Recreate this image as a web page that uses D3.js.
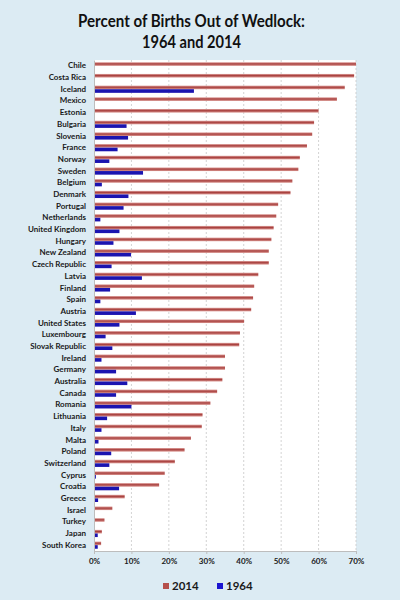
<!DOCTYPE html>
<html>
<head>
<meta charset="utf-8">
<script src="https://cdn.jsdelivr.net/npm/d3@7"></script>
<style>
  body { margin: 0; background: #dcebf3; }
  svg { display: block; }
</style>
</head>
<body>
<div id="chart"></div>
<script>
// values (percent of births out of wedlock)
var countries = ["Chile","Costa Rica","Iceland","Mexico","Estonia","Bulgaria","Slovenia","France","Norway","Sweden",
  "Belgium","Denmark","Portugal","Netherlands","United Kingdom","Hungary","New Zealand","Czech Republic","Latvia","Finland",
  "Spain","Austria","United States","Luxembourg","Slovak Republic","Ireland","Germany","Australia","Canada","Romania",
  "Lithuania","Italy","Malta","Poland","Switzerland","Cyprus","Croatia","Greece","Israel","Turkey","Japan","South Korea"];
var values2014 = [70.7,69.5,67.0,64.9,60.0,58.8,58.3,56.9,55.0,54.6,
  53.0,52.5,49.2,48.7,48.0,47.4,46.7,46.7,43.9,42.8,
  42.5,42.0,40.1,39.0,38.8,35.0,35.0,34.3,32.9,31.1,
  29.0,28.8,25.9,24.2,21.6,18.9,17.4,8.2,4.9,2.8,2.1,1.9];
var values1964 = [0,0,26.7,0,0,8.7,9.1,6.3,4.1,13.1,
  2.1,9.2,7.9,1.7,6.8,5.2,9.9,4.7,12.8,4.3,
  1.7,11.2,6.8,3.1,4.9,2.0,5.9,8.9,5.9,10.0,
  3.5,2.0,1.2,4.6,4.1,0.5,6.7,1.1,0,0,1.0,1.0];
var xTicks = [0,10,20,30,40,50,60,70];
var seriesNames = ["2014","1964"];
var titleLines = ["Percent of Births Out of Wedlock:", "1964 and 2014"];

var width = 400, height = 600;
var margin = {top: 60, right: 44, bottom: 49, left: 94};
var font = "Lato, 'Open Sans', sans-serif";

var svg = d3.select("#chart").append("svg")
    .attr("width", width).attr("height", height);

svg.append("rect").attr("width", width).attr("height", height).attr("fill", "#dcebf3");

var defs = svg.append("defs");
var grad = defs.append("linearGradient").attr("id", "redbar")
    .attr("x1", 0).attr("x2", 0).attr("y1", 0).attr("y2", 1);
grad.append("stop").attr("offset", "0%").attr("stop-color", "#e0a39f");
grad.append("stop").attr("offset", "45%").attr("stop-color", "#a8403e");
grad.append("stop").attr("offset", "100%").attr("stop-color", "#d99590");

// title (squeezed a bit, the original is set in a narrow font)
var title = svg.append("text")
    .attr("text-anchor", "middle")
    .attr("font-family", font)
    .attr("font-weight", "bold")
    .attr("font-size", 16.5)
    .attr("fill", "#111");
title.append("tspan").attr("x", 191.5).attr("y", 27)
    .attr("textLength", 227).attr("lengthAdjust", "spacingAndGlyphs")
    .text(titleLines[0]);
title.append("tspan").attr("x", 191.5).attr("y", 48)
    .attr("textLength", 99).attr("lengthAdjust", "spacingAndGlyphs")
    .text(titleLines[1]);

var x = d3.scaleLinear().domain([0, 70])
    .range([margin.left, width - margin.right]);
var y = d3.scaleBand().domain(countries)
    .range([margin.top, height - margin.bottom]);

// plot area
svg.append("rect")
    .attr("x", x(0)).attr("y", margin.top)
    .attr("width", x(70) - x(0)).attr("height", height - margin.bottom - margin.top)
    .attr("fill", "#fff");

// gridlines
svg.append("g").selectAll("line")
  .data(xTicks.slice(1))
  .join("line")
    .attr("x1", d => x(d)).attr("x2", d => x(d))
    .attr("y1", margin.top).attr("y2", height - margin.bottom)
    .attr("stroke", "#c8c8c8")
    .attr("stroke-dasharray", "2,2")
    .attr("stroke-width", 0.8);

var bh = 3.6;
var rows = svg.append("g");

// 2014 bars (upper half of each band)
rows.selectAll(".b2014")
  .data(countries)
  .join("rect")
    .attr("class", "b2014")
    .attr("x", x(0))
    .attr("y", (d) => y(d) + y.bandwidth() / 2 - bh)
    .attr("width", (d, i) => x(Math.min(values2014[i], 70)) - x(0))
    .attr("height", bh)
    .attr("fill", "url(#redbar)");

// 1964 bars (lower half)
rows.selectAll(".b1964")
  .data(countries)
  .join("rect")
    .attr("class", "b1964")
    .attr("x", x(0))
    .attr("y", (d) => y(d) + y.bandwidth() / 2)
    .attr("width", (d, i) => x(values1964[i]) - x(0))
    .attr("height", bh)
    .attr("fill", "#1b14b0");

// y axis
var yAxis = svg.append("g")
    .attr("transform", "translate(" + x(0) + ",0)")
    .call(d3.axisLeft(y).tickSize(0).tickPadding(8));
yAxis.select(".domain").attr("stroke", "#bdbdbd");
yAxis.selectAll("text")
    .attr("font-family", font)
    .attr("font-weight", "bold")
    .attr("font-size", 8)
    .attr("fill", "#1a1a1a");

// x axis
var xAxis = svg.append("g")
    .attr("transform", "translate(0," + (height - margin.bottom) + ")")
    .call(d3.axisBottom(x).tickValues(xTicks).tickFormat(d => d + "%").tickSize(3).tickPadding(4));
xAxis.select(".domain").attr("stroke", "#bdbdbd");
xAxis.selectAll("line").attr("stroke", "#bdbdbd");
xAxis.selectAll("text")
    .attr("font-family", font)
    .attr("font-weight", "bold")
    .attr("font-size", 8)
    .attr("fill", "#1a1a1a");

// legend
var legend = svg.append("g").attr("transform", "translate(163,587)");
var legendColors = ["#b5504c", "#1b14d0"];
var legendX = [0, 54];
seriesNames.forEach(function(s, i) {
  legend.append("rect")
    .attr("x", legendX[i]).attr("y", -4)
    .attr("width", 6).attr("height", 6)
    .attr("fill", legendColors[i]);
  legend.append("text")
    .attr("x", legendX[i] + 9).attr("y", 3)
    .attr("font-family", font)
    .attr("font-weight", "bold")
    .attr("font-size", 11.5)
    .attr("fill", "#1a1a1a")
    .text(s);
});
</script>
</body>
</html>
